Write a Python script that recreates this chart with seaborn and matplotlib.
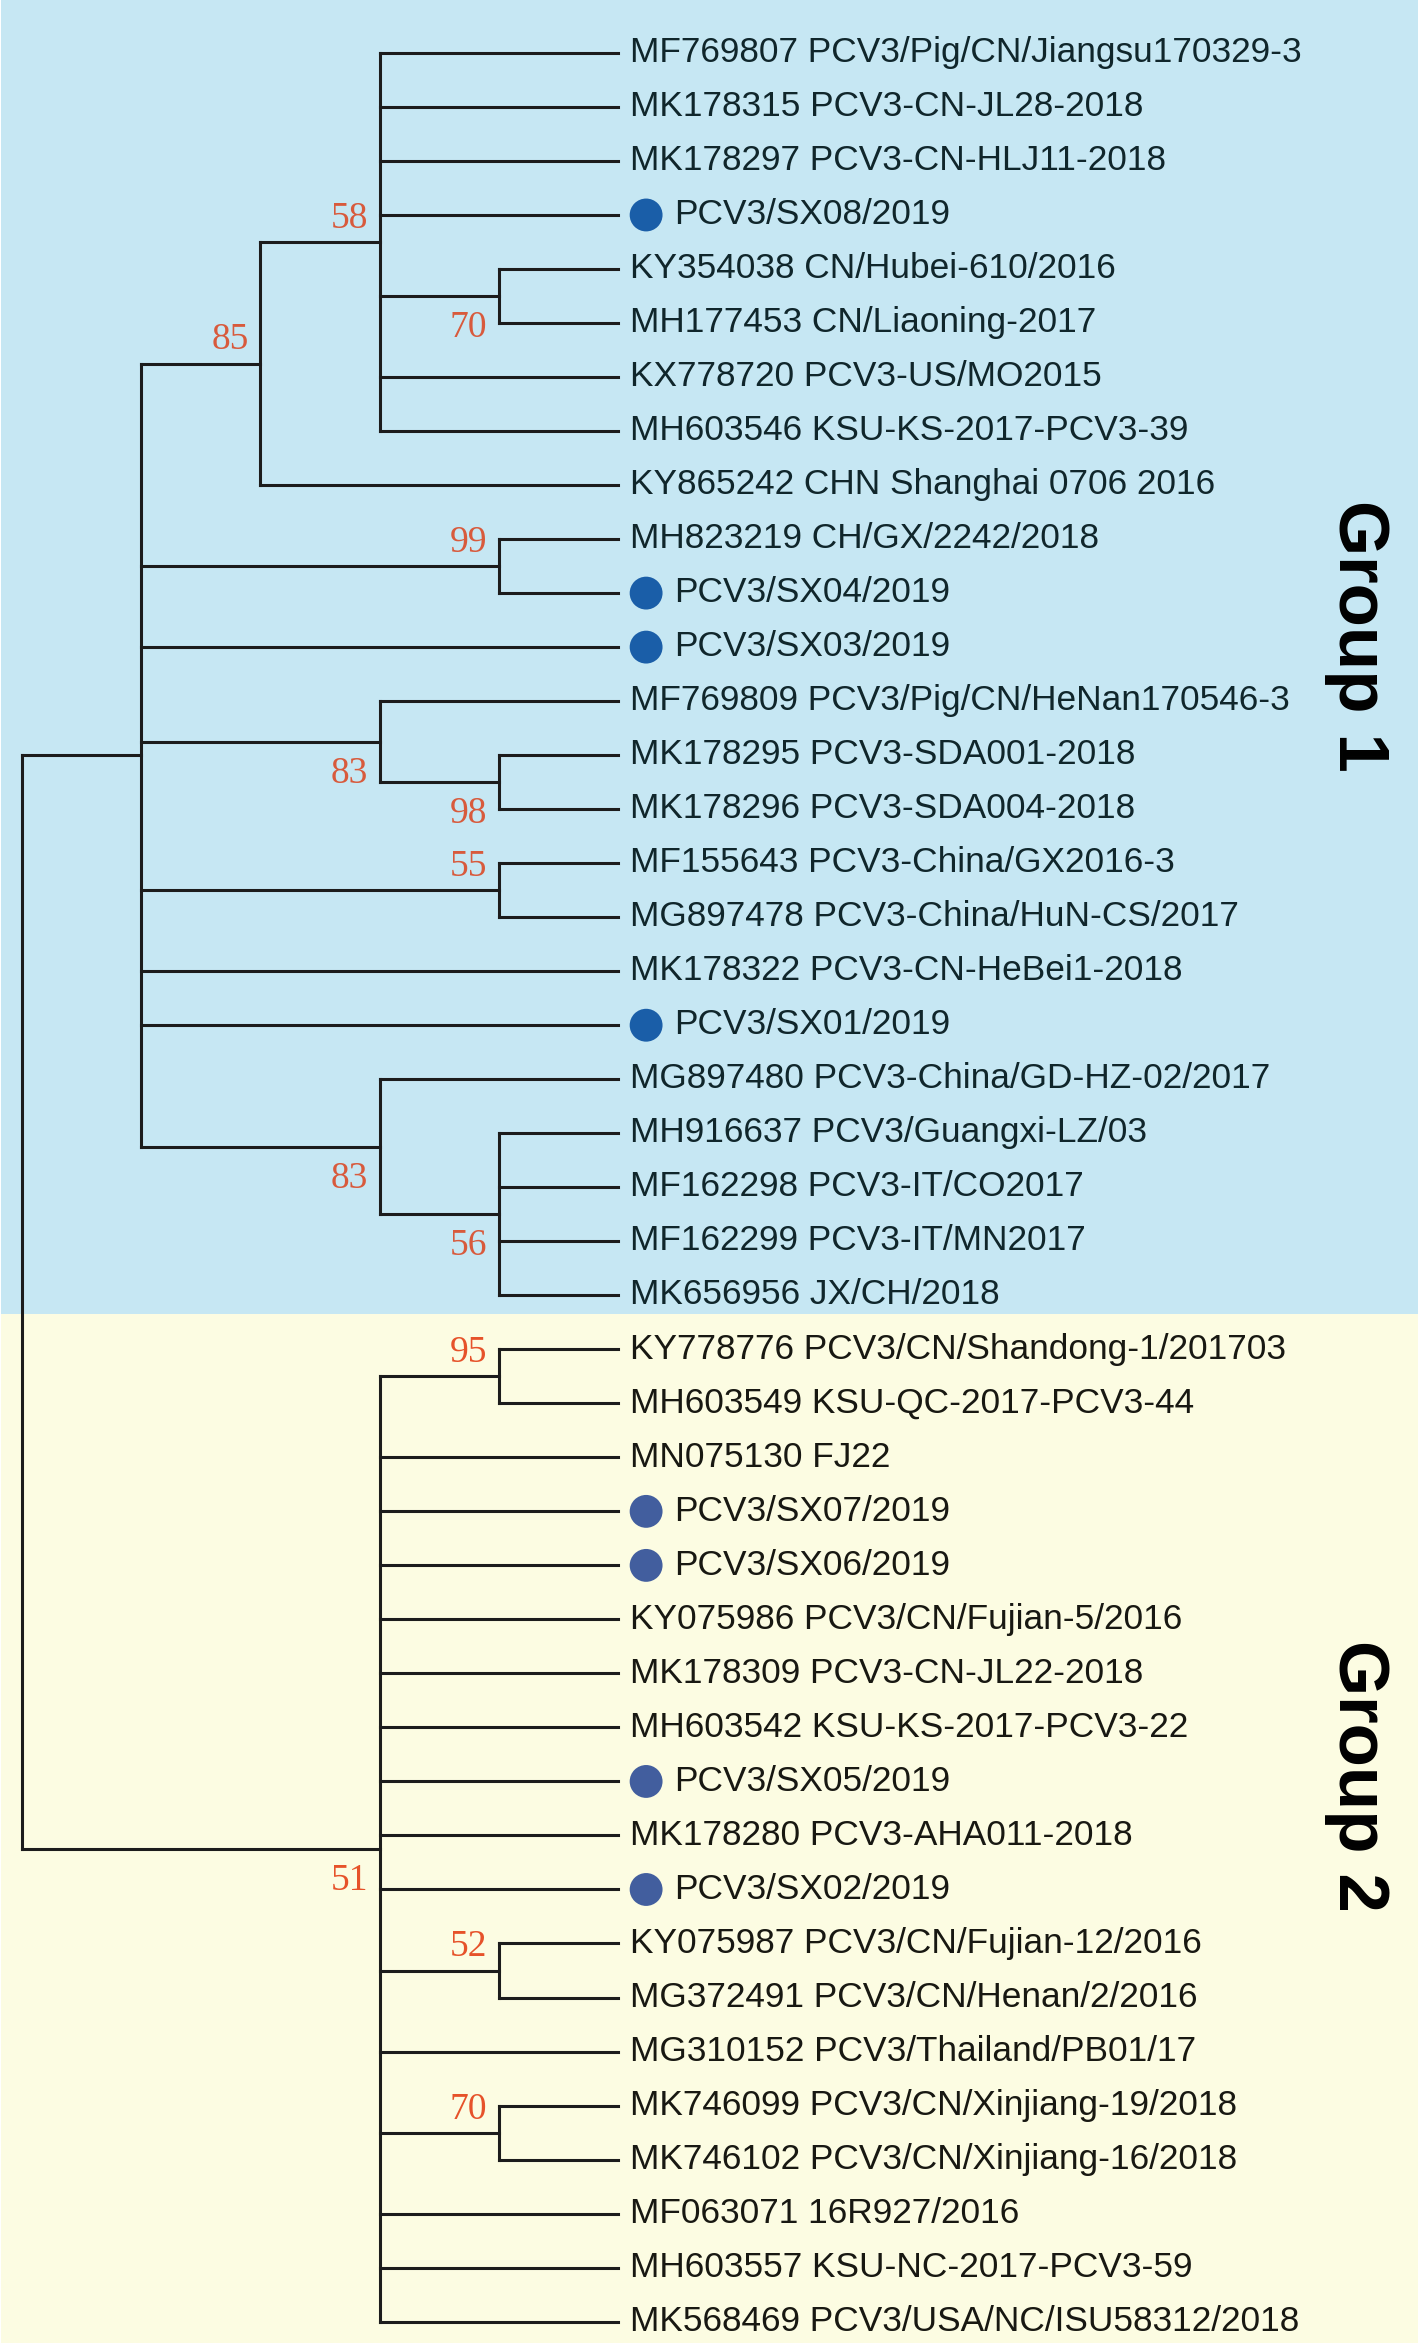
import re

import pandas as pd
import matplotlib
matplotlib.use("Agg")
import matplotlib.pyplot as plt
import seaborn as sns

# Taxa in the order they appear from top to bottom
taxa = [
    "MF769807 PCV3/Pig/CN/Jiangsu170329-3",
    "MK178315 PCV3-CN-JL28-2018",
    "MK178297 PCV3-CN-HLJ11-2018",
    "PCV3/SX08/2019",
    "KY354038 CN/Hubei-610/2016",
    "MH177453 CN/Liaoning-2017",
    "KX778720 PCV3-US/MO2015",
    "MH603546 KSU-KS-2017-PCV3-39",
    "KY865242 CHN Shanghai 0706 2016",
    "MH823219 CH/GX/2242/2018",
    "PCV3/SX04/2019",
    "PCV3/SX03/2019",
    "MF769809 PCV3/Pig/CN/HeNan170546-3",
    "MK178295 PCV3-SDA001-2018",
    "MK178296 PCV3-SDA004-2018",
    "MF155643 PCV3-China/GX2016-3",
    "MG897478 PCV3-China/HuN-CS/2017",
    "MK178322 PCV3-CN-HeBei1-2018",
    "PCV3/SX01/2019",
    "MG897480 PCV3-China/GD-HZ-02/2017",
    "MH916637 PCV3/Guangxi-LZ/03",
    "MF162298 PCV3-IT/CO2017",
    "MF162299 PCV3-IT/MN2017",
    "MK656956 JX/CH/2018",
    "KY778776 PCV3/CN/Shandong-1/201703",
    "MH603549 KSU-QC-2017-PCV3-44",
    "MN075130 FJ22",
    "PCV3/SX07/2019",
    "PCV3/SX06/2019",
    "KY075986 PCV3/CN/Fujian-5/2016",
    "MK178309 PCV3-CN-JL22-2018",
    "MH603542 KSU-KS-2017-PCV3-22",
    "PCV3/SX05/2019",
    "MK178280 PCV3-AHA011-2018",
    "PCV3/SX02/2019",
    "KY075987 PCV3/CN/Fujian-12/2016",
    "MG372491 PCV3/CN/Henan/2/2016",
    "MG310152 PCV3/Thailand/PB01/17",
    "MK746099 PCV3/CN/Xinjiang-19/2018",
    "MK746102 PCV3/CN/Xinjiang-16/2018",
    "MF063071 16R927/2016",
    "MH603557 KSU-NC-2017-PCV3-59",
    "MK568469 PCV3/USA/NC/ISU58312/2018",
]

# Topology (leaf = index into taxa), bootstrap support after ")"
newick = (
    "((((0,1,2,3,(4,5)70,6,7)58,8)85,(9,10)99,11,(12,(13,14)98)83,"
    "(15,16)55,17,18,(19,(20,21,22,23)56)83),"
    "((24,25)95,26,27,28,29,30,31,32,33,34,(35,36)52,37,(38,39)70,40,41,42)51);"
)

# bootstrap label side, in post-order of supported nodes
support_side = ["below", "above", "above", "above", "below", "below",
                "above", "below", "below", "above", "above", "above", "below"]

groups = ["Group 1", "Group 2"]
group_span = [(0, 23), (24, 42)]
group_label_y = [10.8, 31.9]

BLUE_BG = "#C6E7F3"
YELLOW_BG = "#FCFCE2"
LINE = "#1c1c1c"
TEXT = {"Group 1": "#10262b", "Group 2": "#181812"}
BOOT = {"Group 1": "#D85A3C", "Group 2": "#E6522A"}
DOT = {"Group 1": "#1A5EA8", "Group 2": "#425E9E"}


def parse(s, i=0):
    if s[i] == "(":
        children = []
        i += 1
        while True:
            child, i = parse(s, i)
            children.append(child)
            if s[i] == ",":
                i += 1
                continue
            break
        i += 1
        m = re.match(r"\d*", s[i:]).group()
        return {"children": children, "support": int(m) if m else None}, i + len(m)
    m = re.match(r"\d+", s[i:]).group()
    return {"leaf": int(m)}, i + len(m)


def layout(node):
    if "leaf" in node:
        node["h"], node["y"] = 0, float(node["leaf"])
        return
    for c in node["children"]:
        layout(c)
    node["h"] = 1 + max(c["h"] for c in node["children"])
    node["y"] = (node["children"][0]["y"] + node["children"][-1]["y"]) / 2


tree, _ = parse(newick)
layout(tree)
tip_x = tree["h"]

hseg, vseg, supports = [], [], []


def collect(node):
    if "leaf" in node:
        return
    x = tip_x - node["h"]
    vseg.append((x, node["children"][0]["y"], node["children"][-1]["y"]))
    for c in node["children"]:
        hseg.append((c["y"], x, tip_x - c["h"]))
        collect(c)
    if node["support"] is not None:
        supports.append((x, node["y"], node["support"]))


collect(tree)


def group_of(i):
    return groups[0] if i <= group_span[0][1] else groups[1]


leaf_df = pd.DataFrame({"label": taxa, "y": range(len(taxa))})
leaf_df["group"] = [group_of(i) for i in leaf_df["y"]]
leaf_df["isolate"] = leaf_df["label"].str.startswith("PCV3/SX")

# ---- figure
sns.set_theme(style="white")
plt.rcParams["font.family"] = ["Liberation Sans", "DejaVu Sans"]

fig = plt.figure(figsize=(14.18, 23.47), dpi=100)
ax = fig.add_axes([0, 0, 1, 1])
ax.set_xlim(-0.185, 11.71)
ax.set_ylim(42.47, -0.98)
ax.axis("off")

# group backgrounds
ax.axhspan(-0.98, 23.34, xmin=0.001, xmax=1, color=BLUE_BG, lw=0, zorder=0)
ax.axhspan(23.34, 42.39, xmin=0.001, xmax=1, color=YELLOW_BG, lw=0, zorder=0)

# branches
h = ax.hlines([s[0] for s in hseg], [s[1] for s in hseg], [s[2] for s in hseg],
              color=LINE, lw=2.2, zorder=2)
v = ax.vlines([s[0] for s in vseg], [s[1] for s in vseg], [s[2] for s in vseg],
              color=LINE, lw=2.2, zorder=2)
h.set_capstyle("projecting")
v.set_capstyle("projecting")

# isolate markers
dots = leaf_df[leaf_df["isolate"]].assign(x=tip_x + 0.235)
sns.scatterplot(data=dots, x="x", y="y", hue="group", palette=DOT, s=560,
                edgecolor="none", legend=False, ax=ax, zorder=3)

# tip labels
for _, r in leaf_df.iterrows():
    x = tip_x + (0.47 if r["isolate"] else 0.096)
    ax.text(x, r["y"] + 0.17, r["label"], fontsize=25.4, color=TEXT[r["group"]],
            ha="left", va="baseline")

# bootstrap values
for (x, y, val), side in zip(supports, support_side):
    g = group_of(int(y))
    yy = y - 0.26 if side == "above" else y + 0.76
    ax.text(x - 0.1, yy, str(val), fontsize=27, color=BOOT[g],
            family="Liberation Serif", ha="right", va="baseline")

# group labels
for name, gy in zip(groups, group_label_y):
    ax.text(11.05, gy, name, fontsize=51, fontweight="bold", color="black",
            rotation=-90, rotation_mode="anchor", ha="center", va="baseline")

fig.savefig("out.png", dpi=100, facecolor="white")
plt.close(fig)
